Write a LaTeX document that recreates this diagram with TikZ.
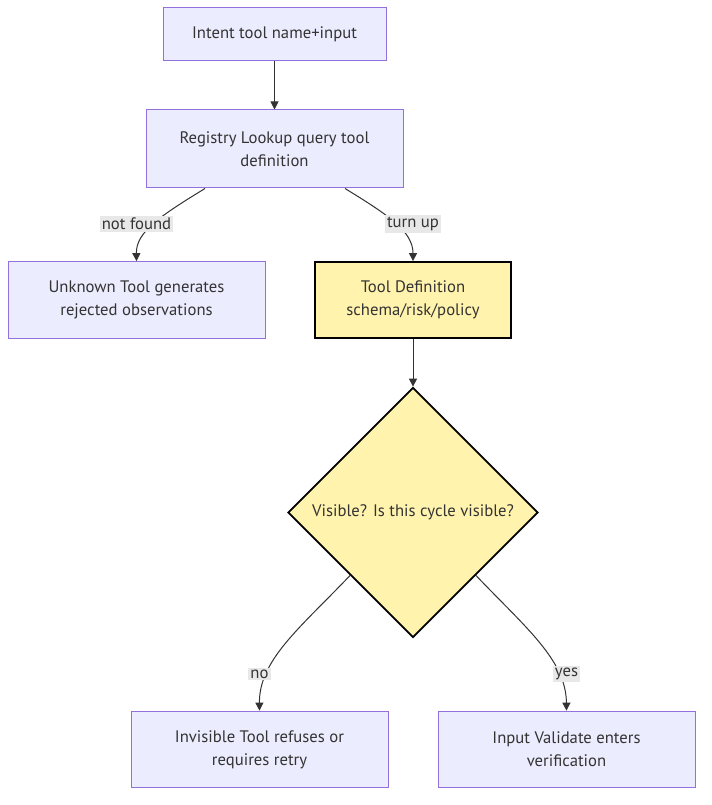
\documentclass[tikz,border=0pt]{standalone}
\usepackage{fontspec}
\setmainfont{PT Sans}
\usetikzlibrary{shapes.geometric,arrows.meta,calc}
\definecolor{lav}{HTML}{ECECFF}
\definecolor{lavb}{HTML}{9370DB}
\definecolor{yel}{HTML}{FFF3AD}
\definecolor{txt}{HTML}{333333}
\definecolor{lblbg}{HTML}{E8E8E8}
\begin{document}
\begin{tikzpicture}[x=0.75pt,y=-0.75pt,
  every node/.style={font=\fontsize{12.5}{17.5}\selectfont, text=txt},
  box/.style={draw=lavb, fill=lav, line width=0.75pt, align=center, inner sep=0pt, minimum width=192.75pt, minimum height=57.5pt},
  hot/.style={draw=black, fill=yel, line width=1.3pt, align=center, inner sep=0pt},
  lbl/.style={fill=lblbg, inner sep=1.5pt, text=txt},
  conn/.style={draw=txt, line width=0.75pt, -{Triangle[length=6pt,width=6pt]}}]
\useasboundingbox (0,0) rectangle (711,805);
\node[box, minimum width=167.25pt, minimum height=39.75pt] (intent) at (274.5,34.5) {Intent tool name+input};
\node[box, minimum height=58.5pt] (reg) at (274.5,149) {Registry Lookup query tool\\definition};
\node[box] (unk) at (136.5,300) {Unknown Tool generates\\rejected observations};
\node[hot, minimum width=147pt, minimum height=57pt] (def) at (413,300) {Tool Definition\\schema/risk/policy};
\node[hot, shape=diamond, minimum width=187.5pt, minimum height=187.5pt, aspect=1] (vis) at (413,512.5) {Visible? Is this cycle visible?};
\node[box] (inv) at (259.5,749.5) {Invisible Tool refuses or\\requires retry};
\node[box] (inp) at (566.5,749.5) {Input Validate enters\\verification};

\draw[conn] (intent) -- (reg);
\draw[conn] ($(reg.south)+(-69.5,0)$) .. controls (160,216) and (136,232) .. (unk.north);
\draw[conn] ($(reg.south)+(70.5,0)$) .. controls (390,216) and (413,232) .. (def.north);
\draw[conn] (def) -- (vis);
\draw[conn] (vis.south west) .. controls (300,628) and (259,660) .. (inv.north);
\draw[conn] (vis.south east) .. controls (526,628) and (566,660) .. (inp.north);

\node[lbl] (l1) at (136.5,224) {not found};
\node[lbl] (l2) at (413,224) {turn up};
\node[lbl] (l3) at (259.5,674) {no};
\node[lbl] (l4) at (566.5,674) {yes};
\end{tikzpicture}
\end{document}
